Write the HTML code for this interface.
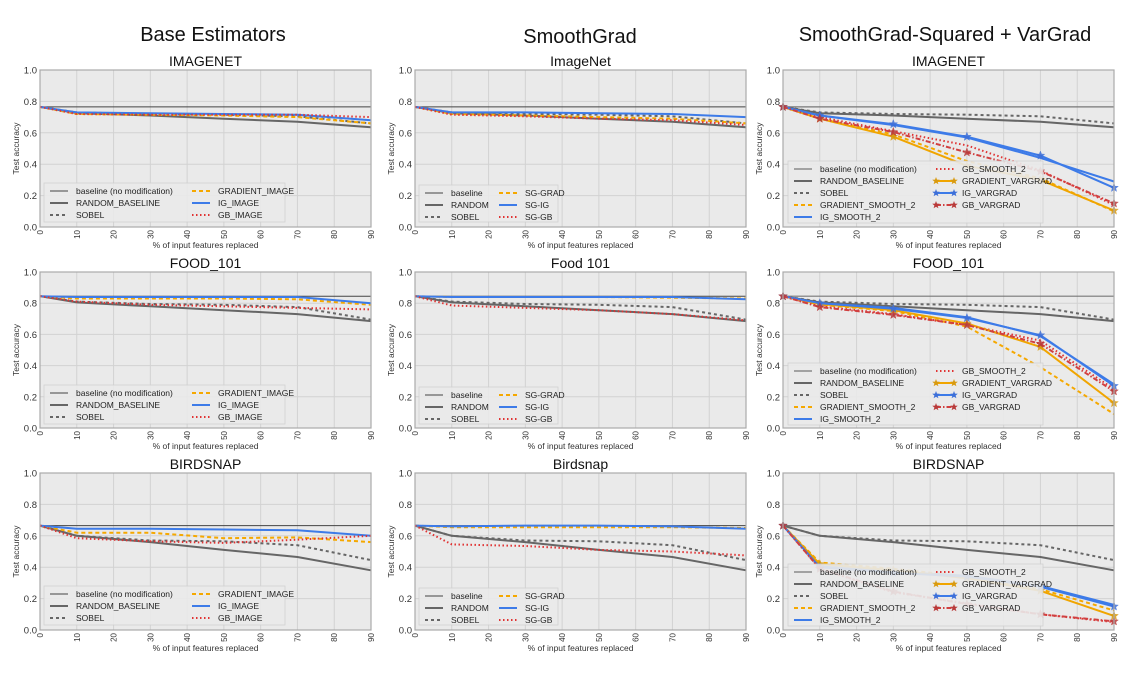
<!DOCTYPE html>
<html><head><meta charset="utf-8">
<style>
html,body{margin:0;padding:0;background:#fff;}
body{width:1136px;height:674px;overflow:hidden;font-family:"Liberation Sans","DejaVu Sans",sans-serif;}
svg text{font-family:"Liberation Sans","DejaVu Sans",sans-serif;}
</style></head>
<body>
<svg id="fig" width="1136" height="674" xmlns="http://www.w3.org/2000/svg">
<text x="213" y="41" font-size="20" text-anchor="middle" fill="#111">Base Estimators</text>
<text x="580" y="43" font-size="20" text-anchor="middle" fill="#111">SmoothGrad</text>
<text x="945" y="41" font-size="20" text-anchor="middle" fill="#111">SmoothGrad-Squared + VarGrad</text>
</svg>
<script>
const xs = [0,10,30,50,70,90];
const xTicks = [0,10,20,30,40,50,60,70,80,90];
const yTicks = [0.0,0.2,0.4,0.6,0.8,1.0];

// Row 1 IMAGENET
const inBase=[.765,.765,.765,.765,.765,.765];
const inRandom=[.765,.725,.71,.69,.67,.635];
const inSobel=[.765,.73,.72,.715,.705,.66];
const inGrad=[.765,.72,.715,.71,.70,.66];
const inIG=[.765,.73,.725,.72,.715,.68];
const inGB=[.765,.72,.715,.715,.715,.70];
const inSgGrad=[.765,.72,.71,.70,.69,.66];
const inSgIG=[.765,.73,.73,.725,.72,.70];
const inSgGB=[.765,.715,.705,.69,.68,.65];
const inGradS2=[.765,.69,.59,.42,.31,.10];
const inIGS2=[.765,.71,.65,.57,.44,.29];
const inGBS2=[.765,.70,.61,.52,.36,.14];
const inGradVG=[.765,.69,.575,.39,.30,.105];
const inIGVG=[.765,.71,.655,.575,.455,.25];
const inGBVG=[.765,.69,.605,.475,.355,.15];
// Row 2 FOOD_101
const fdBase=[.845,.845,.845,.845,.845,.845];
const fdRandom=[.845,.805,.78,.755,.73,.685];
const fdSobel=[.845,.81,.795,.79,.775,.695];
const fdGrad=[.845,.83,.83,.83,.825,.79];
const fdIG=[.845,.84,.84,.84,.84,.80];
const fdGB=[.845,.81,.79,.78,.77,.76];
const fdSgGrad=[.845,.84,.84,.84,.835,.83];
const fdSgIG=[.845,.84,.84,.84,.84,.825];
const fdSgGB=[.845,.785,.77,.755,.73,.69];
const fdGradS2=[.845,.79,.75,.65,.39,.09];
const fdIGS2=[.845,.80,.77,.71,.59,.28];
const fdGBS2=[.845,.78,.73,.66,.56,.25];
const fdGradVG=[.845,.795,.755,.67,.52,.16];
const fdIGVG=[.845,.80,.765,.705,.595,.27];
const fdGBVG=[.845,.775,.725,.66,.54,.235];
// Row 3 BIRDSNAP
const bsBase=[.665,.665,.665,.665,.665,.665];
const bsRandom=[.665,.60,.56,.51,.465,.38];
const bsSobel=[.665,.60,.57,.565,.54,.445];
const bsGrad=[.665,.62,.62,.585,.59,.56];
const bsIG=[.665,.645,.645,.64,.635,.60];
const bsGB=[.665,.585,.565,.555,.575,.60];
const bsSgGrad=[.665,.655,.655,.655,.655,.65];
const bsSgIG=[.665,.66,.665,.665,.66,.645];
const bsSgGB=[.665,.545,.535,.51,.50,.475];
const bsGradS2=[.665,.43,.39,.34,.26,.125];
const bsIGS2=[.665,.405,.37,.345,.28,.16];
const bsGBS2=[.665,.39,.24,.17,.10,.05];
const bsGradVG=[.665,.42,.38,.33,.25,.09];
const bsIGVG=[.665,.40,.365,.34,.275,.15];
const bsGBVG=[.665,.39,.245,.165,.10,.055];

const NS="http://www.w3.org/2000/svg";
const svg=document.getElementById('fig');
function mk(tag,attrs,parent){const e=document.createElementNS(NS,tag);for(const k in attrs)e.setAttribute(k,attrs[k]);(parent||svg).appendChild(e);return e;}

const ST={
 base:{stroke:'#444',w:1,dash:''},
 base3:{stroke:'#777',w:1.2,dash:''},
 random:{stroke:'#666',w:2,dash:''},
 sobel:{stroke:'#666',w:2,dash:'3,3'},
 grad:{stroke:'#f5a800',w:2,dash:'4,3'},
 ig:{stroke:'#3d7be8',w:2,dash:''},
 gb:{stroke:'#e03333',w:2,dash:'1.5,2.5'},
 gradvg:{stroke:'#f0a500',w:2,dash:'',star:'#d89a10'},
 igvg:{stroke:'#3d7be8',w:2,dash:'',star:'#3d6fd8'},
 gbvg:{stroke:'#d04040',w:2,dash:'5,2,1.5,2',star:'#b83a3a'}
};

const cols=[{x0:40,x1:371},{x0:415,x1:746},{x0:783,x1:1114}];
const rows=[{y0:70,y1:227},{y0:272,y1:428},{y0:473,y1:630}];

function starPts(cx,cy,r){let p=[];for(let i=0;i<10;i++){const a=-Math.PI/2+i*Math.PI/5;const rr=i%2?r*0.42:r;p.push((cx+rr*Math.cos(a)).toFixed(1)+','+(cy+rr*Math.sin(a)).toFixed(1));}return p.join(' ');}

const panels=[
 {r:0,c:0,title:'IMAGENET',series:[['baseline (no modification)',inBase,'base'],['RANDOM_BASELINE',inRandom,'random'],['SOBEL',inSobel,'sobel'],['GRADIENT_IMAGE',inGrad,'grad'],['IG_IMAGE',inIG,'ig'],['GB_IMAGE',inGB,'gb']],leg:'a'},
 {r:0,c:1,title:'ImageNet',series:[['baseline',inBase,'base'],['RANDOM',inRandom,'random'],['SOBEL',inSobel,'sobel'],['SG-GRAD',inSgGrad,'grad'],['SG-IG',inSgIG,'ig'],['SG-GB',inSgGB,'gb']],leg:'b'},
 {r:0,c:2,title:'IMAGENET',series:[['baseline (no modification)',inBase,'base3'],['RANDOM_BASELINE',inRandom,'random'],['SOBEL',inSobel,'sobel'],['GRADIENT_SMOOTH_2',inGradS2,'grad'],['IG_SMOOTH_2',inIGS2,'ig'],['GB_SMOOTH_2',inGBS2,'gb'],['GRADIENT_VARGRAD',inGradVG,'gradvg'],['IG_VARGRAD',inIGVG,'igvg'],['GB_VARGRAD',inGBVG,'gbvg']],leg:'c'},
 {r:1,c:0,title:'FOOD_101',series:[['baseline (no modification)',fdBase,'base'],['RANDOM_BASELINE',fdRandom,'random'],['SOBEL',fdSobel,'sobel'],['GRADIENT_IMAGE',fdGrad,'grad'],['IG_IMAGE',fdIG,'ig'],['GB_IMAGE',fdGB,'gb']],leg:'a'},
 {r:1,c:1,title:'Food 101',series:[['baseline',fdBase,'base'],['RANDOM',fdRandom,'random'],['SOBEL',fdSobel,'sobel'],['SG-GRAD',fdSgGrad,'grad'],['SG-IG',fdSgIG,'ig'],['SG-GB',fdSgGB,'gb']],leg:'b'},
 {r:1,c:2,title:'FOOD_101',series:[['baseline (no modification)',fdBase,'base3'],['RANDOM_BASELINE',fdRandom,'random'],['SOBEL',fdSobel,'sobel'],['GRADIENT_SMOOTH_2',fdGradS2,'grad'],['IG_SMOOTH_2',fdIGS2,'ig'],['GB_SMOOTH_2',fdGBS2,'gb'],['GRADIENT_VARGRAD',fdGradVG,'gradvg'],['IG_VARGRAD',fdIGVG,'igvg'],['GB_VARGRAD',fdGBVG,'gbvg']],leg:'c'},
 {r:2,c:0,title:'BIRDSNAP',series:[['baseline (no modification)',bsBase,'base'],['RANDOM_BASELINE',bsRandom,'random'],['SOBEL',bsSobel,'sobel'],['GRADIENT_IMAGE',bsGrad,'grad'],['IG_IMAGE',bsIG,'ig'],['GB_IMAGE',bsGB,'gb']],leg:'a'},
 {r:2,c:1,title:'Birdsnap',series:[['baseline',bsBase,'base'],['RANDOM',bsRandom,'random'],['SOBEL',bsSobel,'sobel'],['SG-GRAD',bsSgGrad,'grad'],['SG-IG',bsSgIG,'ig'],['SG-GB',bsSgGB,'gb']],leg:'b'},
 {r:2,c:2,title:'BIRDSNAP',series:[['baseline (no modification)',bsBase,'base3'],['RANDOM_BASELINE',bsRandom,'random'],['SOBEL',bsSobel,'sobel'],['GRADIENT_SMOOTH_2',bsGradS2,'grad'],['IG_SMOOTH_2',bsIGS2,'ig'],['GB_SMOOTH_2',bsGBS2,'gb'],['GRADIENT_VARGRAD',bsGradVG,'gradvg'],['IG_VARGRAD',bsIGVG,'igvg'],['GB_VARGRAD',bsGBVG,'gbvg']],leg:'c'}
];

panels.forEach(p=>{
 const C=cols[p.c],R=rows[p.r];
 const sx=v=>C.x0+(v/90)*(C.x1-C.x0);
 const sy=v=>R.y1-v*(R.y1-R.y0);
 const g=mk('g',{});
 
 
 const bg=mk('rect',{x:C.x0,y:R.y0,width:C.x1-C.x0,height:R.y1-R.y0,fill:'#eaeaea'},g);
 
 
 xTicks.forEach(t=>{
  mk('line',{x1:sx(t),x2:sx(t),y1:R.y0,y2:R.y1,stroke:'#d2d2d2','stroke-width':1},g);
  const tl=mk('text',{x:0,y:0,'font-size':8,fill:'#333','text-anchor':'end',transform:`translate(${sx(t)+3},${R.y1+3}) rotate(-90)`},g);
  tl.textContent=t;
  
  
 });
 yTicks.forEach(t=>{
  mk('line',{x1:C.x0,x2:C.x1,y1:sy(t),y2:sy(t),stroke:'#d2d2d2','stroke-width':1},g);
  const tl=mk('text',{x:C.x0-3,y:sy(t)+3.5,'font-size':9.5,fill:'#333','text-anchor':'end'},g);
  tl.textContent=t.toFixed(1);
  
  
 });
 p.series.forEach(s=>{
  const st=ST[s[2]];
  const d=s[1].map((v,i)=>(i?'L':'M')+sx(xs[i]).toFixed(1)+','+sy(v).toFixed(1)).join(' ');
  const pa=mk('path',{d:d,fill:'none',stroke:st.stroke,'stroke-width':st.w,'stroke-dasharray':st.dash,'stroke-linejoin':'round'},g);
  
  
  if(st.star){s[1].forEach((v,i)=>{
    const m=mk('polygon',{points:starPts(sx(xs[i]),sy(v),4.5),fill:st.star,stroke:st.star,'stroke-width':0.5,opacity:0.85},g);
    
    
  });}
 });
 mk('rect',{x:C.x0,y:R.y0,width:C.x1-C.x0,height:R.y1-R.y0,fill:'none',stroke:'#aaa','stroke-width':1.2},g);
 const tt=mk('text',{x:(C.x0+C.x1)/2,y:R.y0-4,'font-size':14,'text-anchor':'middle',fill:'#111'},g);
 tt.textContent=p.title;
 
 
 const yl=mk('text',{x:0,y:0,'font-size':8.5,fill:'#333','text-anchor':'middle',transform:`translate(${C.x0-21},${(R.y0+R.y1)/2}) rotate(-90)`},g);
 yl.textContent='Test accuracy';
 
 
 const xl=mk('text',{x:(C.x0+C.x1)/2,y:R.y1+21,'font-size':8.5,fill:'#333','text-anchor':'middle'},g);
 xl.textContent='% of input features replaced';
 
 
 // legend
 let L;
 if(p.leg==='a') L={x:C.x0+4,y:R.y0+113,w:241,h:39,c2:142,rows:3,rh:12};
 else if(p.leg==='b') L={x:C.x0+4,y:R.y0+115,w:139,h:37,c2:74,rows:3,rh:12};
 else L={x:C.x0+5,y:R.y0+91,w:255,h:62,c2:142,rows:5,rh:12};
 const lg=mk('g',{},g);
 
 
 mk('rect',{x:L.x,y:L.y,width:L.w,height:L.h,fill:'#eaeaea',stroke:'#cfcfcf','stroke-width':0.8,opacity:0.9},lg);
 p.series.forEach((s,i)=>{
  const st=ST[s[2]];
  const col=Math.floor(i/L.rows),row=i%L.rows;
  const lx=L.x+6+col*L.c2,ly=L.y+8+row*L.rh;
  const e=mk('g',{},lg);
  
  
  mk('line',{x1:lx,x2:lx+18,y1:ly,y2:ly,stroke:st.stroke,'stroke-width':st.w,'stroke-dasharray':st.dash},e);
  if(st.star){mk('polygon',{points:starPts(lx,ly,4),fill:st.star},e);mk('polygon',{points:starPts(lx+18,ly,4),fill:st.star},e);}
  const t=mk('text',{x:lx+26,y:ly+3,'font-size':8.5,fill:'#222'},e);
  t.textContent=s[0];
 });
});
</script>
</body></html>
